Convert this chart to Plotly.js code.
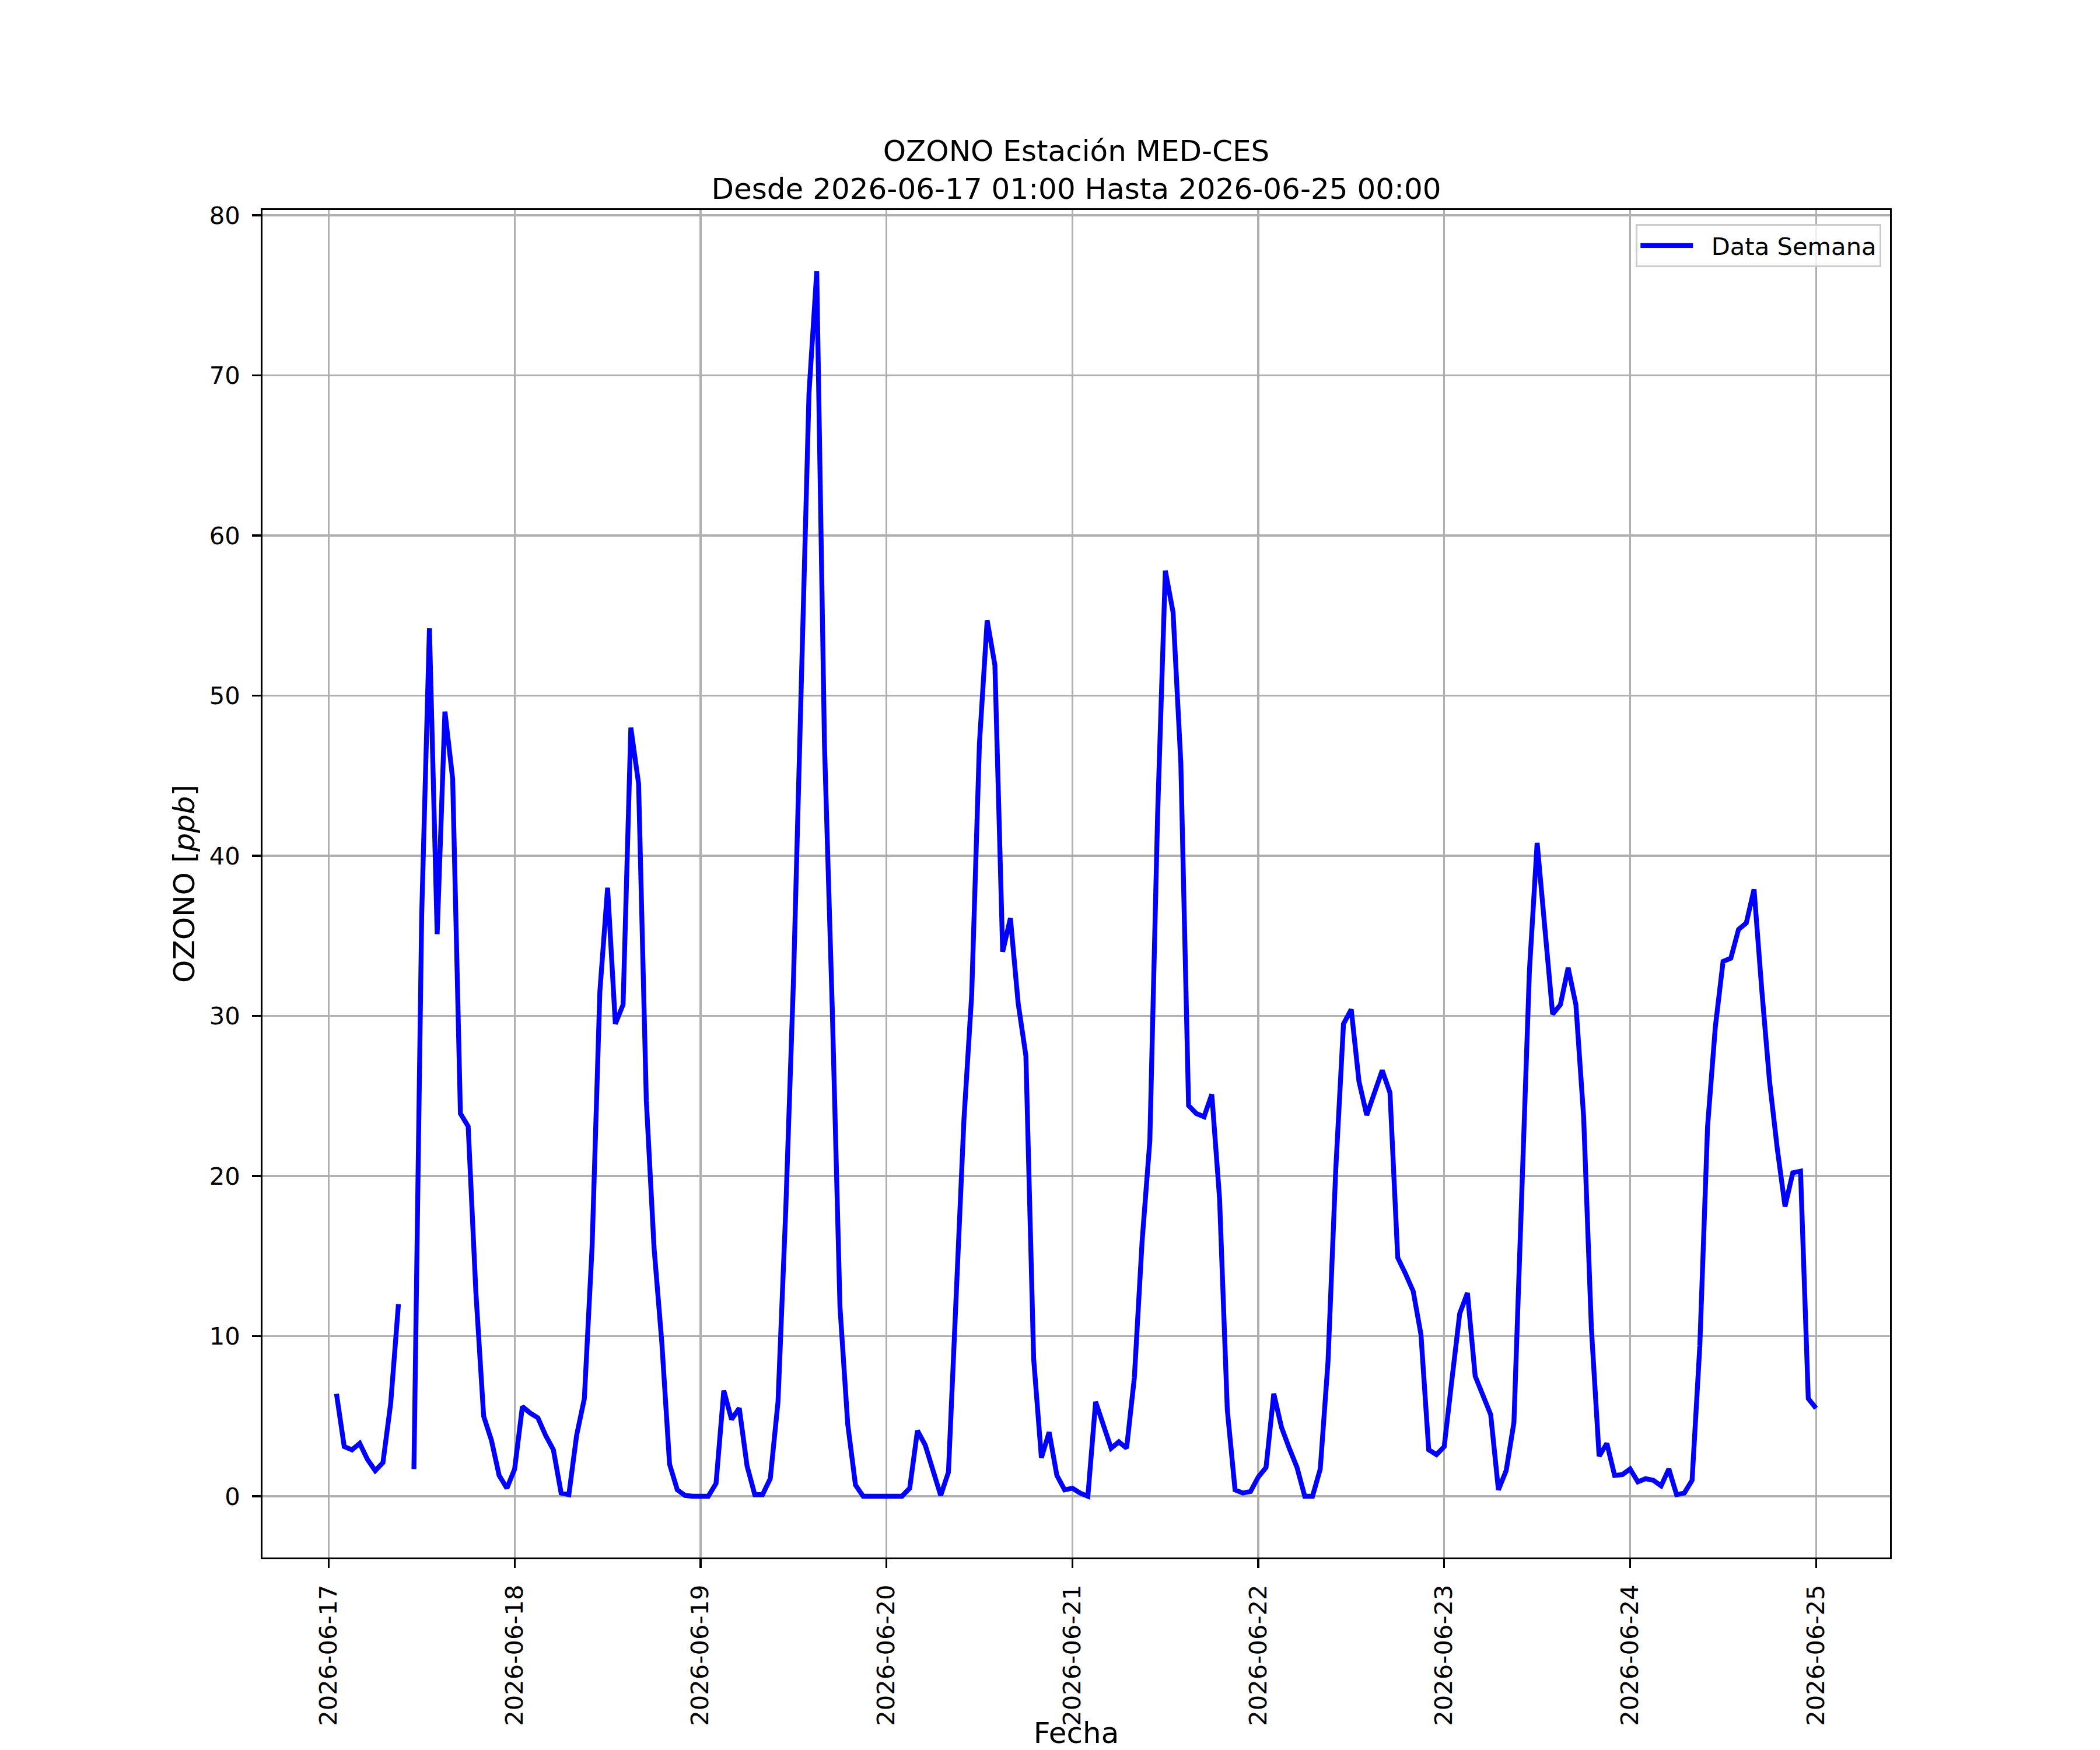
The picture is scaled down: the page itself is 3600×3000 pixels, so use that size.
<!DOCTYPE html>
<html>
<head>
<meta charset="utf-8">
<script src="https://cdn.plot.ly/plotly-3.0.1.min.js"></script>
<style>body{margin:0;background:#fff}</style>
</head>
<body>
<div id="ozonoPlot" style="width:3600px;height:3000px"></div>
<script>
/* DATA */
// Hourly ozone [ppb], one array per day: 01:00 ... 00:00 of the next day
// (null = missing hour, the line breaks there)
const ozono17 = [6.4, 3.1, 2.9, 3.3, 2.3, 1.6, 2.1, 5.8, 12.0, null, 1.7, 36.3,
                 54.2, 35.1, 49.0, 44.8, 23.9, 23.1, 12.7, 5.0, 3.5, 1.3, 0.5, 1.7];
const ozono18 = [5.6, 5.2, 4.9, 3.8, 2.9, 0.2, 0.1, 3.8, 6.1, 15.6, 31.5, 38.0,
                 29.5, 30.7, 48.0, 44.5, 24.7, 15.5, 9.6, 2.0, 0.4, 0.05, 0.0, 0.0];
const ozono19 = [0.0, 0.8, 6.6, 4.8, 5.5, 1.9, 0.1, 0.1, 1.1, 5.9, 17.9, 32.3,
                 49.4, 68.9, 76.5, 46.9, 30.5, 11.8, 4.5, 0.7, 0.0, 0.0, 0.0, 0.0];
const ozono20 = [0.0, 0.0, 0.5, 4.1, 3.2, 1.7, 0.05, 1.5, 13.3, 23.5, 31.3, 47.0,
                 54.7, 51.9, 34.0, 36.1, 30.8, 27.5, 8.6, 2.4, 4.0, 1.3, 0.4, 0.5];
const ozono21 = [0.2, 0.0, 5.9, 4.5, 3.0, 3.4, 3.0, 7.4, 15.9, 22.2, 42.5, 57.8,
                 55.2, 45.8, 24.4, 23.9, 23.7, 25.1, 18.6, 5.4, 0.4, 0.2, 0.3, 1.2];
const ozono22 = [1.8, 6.4, 4.3, 3.0, 1.8, 0.0, 0.0, 1.7, 8.4, 20.4, 29.5, 30.4,
                 25.9, 23.8, 25.2, 26.6, 25.2, 14.9, 13.9, 12.8, 10.1, 2.9, 2.6, 3.1];
const ozono23 = [7.3, 11.4, 12.7, 7.5, 6.3, 5.1, 0.4, 1.6, 4.6, 19.3, 32.8, 40.8,
                 35.4, 30.1, 30.7, 33.0, 30.7, 23.7, 10.5, 2.5, 3.3, 1.3, 1.35, 1.7];
const ozono24 = [0.9, 1.1, 1.0, 0.65, 1.7, 0.1, 0.2, 1.0, 9.4, 23.1, 29.3, 33.4,
                 33.6, 35.4, 35.8, 37.9, 31.6, 25.9, 21.7, 18.1, 20.2, 20.3, 6.1, 5.5];

// Tick labels on the date axis
const tickDays = ['2026-06-17', '2026-06-18', '2026-06-19', '2026-06-20', '2026-06-21',
                  '2026-06-22', '2026-06-23', '2026-06-24', '2026-06-25'];

/* BUILD SERIES */
// Put the days together and give every value its hour (first one is 06-17 01:00)
let yVal = [].concat(ozono17, ozono18, ozono19, ozono20, ozono21, ozono22, ozono23, ozono24);
let t0 = Date.UTC(2026, 5, 17, 1);
let xVal = [];
for (let i = 0; i < yVal.length; i++) {
  xVal.push(new Date(t0 + i * 3600000).toISOString().slice(0, 16).replace('T', ' '));
}

const pt = 300 / 72;   // figure was 300 dpi
const font = 'DejaVu Sans, sans-serif';

let trace = {
  type: 'scatter',
  mode: 'lines',
  x: xVal,
  y: yVal,
  // nbsp keeps a little gap between legend line and text
  name: '\u00a0\u00a0Data Semana',
  connectgaps: false,
  line: {color: '#0000ff', width: 2 * pt}
};

// axis settings shared by both axes
let axisStyle = {
  showline: true,
  mirror: true,
  linecolor: '#000',
  linewidth: 0.8 * pt,
  ticks: 'outside',
  ticklen: 3.5 * pt,
  tickwidth: 0.8 * pt,
  tickcolor: '#000',
  showgrid: true,
  gridcolor: '#b0b0b0',
  gridwidth: 0.8 * pt,
  zeroline: false,
  ticklabelstandoff: 12,
  tickfont: {family: font, size: 10 * pt, color: '#000'}
};

let layout = {
  width: 3600,
  height: 3000,
  margin: {l: 450, r: 360, t: 360, b: 330},
  paper_bgcolor: '#fff',
  plot_bgcolor: '#fff',
  font: {family: font, color: '#000'},
  title: {
    text: 'OZONO Estación MED-CES<br>Desde 2026-06-17 01:00 Hasta 2026-06-25 00:00',
    font: {family: font, size: 12 * pt, color: '#000'},
    x: 0.5,
    xref: 'paper',
    xanchor: 'center',
    y: 1,
    yref: 'paper',
    yanchor: 'bottom',
    pad: {b: 84}
  },
  xaxis: Object.assign({}, axisStyle, {
    type: 'date',
    range: ['2026-06-16 15:27', '2026-06-25 09:33'],
    tickmode: 'array',
    tickvals: tickDays,
    ticktext: tickDays,
    tickangle: -90,
    title: {text: 'Fecha', font: {family: font, size: 12 * pt, color: '#000'}, standoff: 15}
  }),
  yaxis: Object.assign({}, axisStyle, {
    range: [-3.825, 80.325],
    tickmode: 'linear',
    tick0: 0,
    dtick: 10,
    title: {text: 'OZONO [<i>ppb</i>]', font: {family: font, size: 12 * pt, color: '#000'}, standoff: 10}
  }),
  showlegend: true,
  legend: {
    x: 0.9946,
    y: 0.9896,
    xanchor: 'right',
    yanchor: 'top',
    itemwidth: 90,
    bgcolor: 'rgba(255,255,255,0.8)',
    bordercolor: '#cccccc',
    borderwidth: 0.8 * pt,
    font: {family: font, size: 10 * pt, color: '#000'}
  }
};

Plotly.newPlot('ozonoPlot', [trace], layout, {displayModeBar: false, staticPlot: true});
</script>
</body>
</html>
